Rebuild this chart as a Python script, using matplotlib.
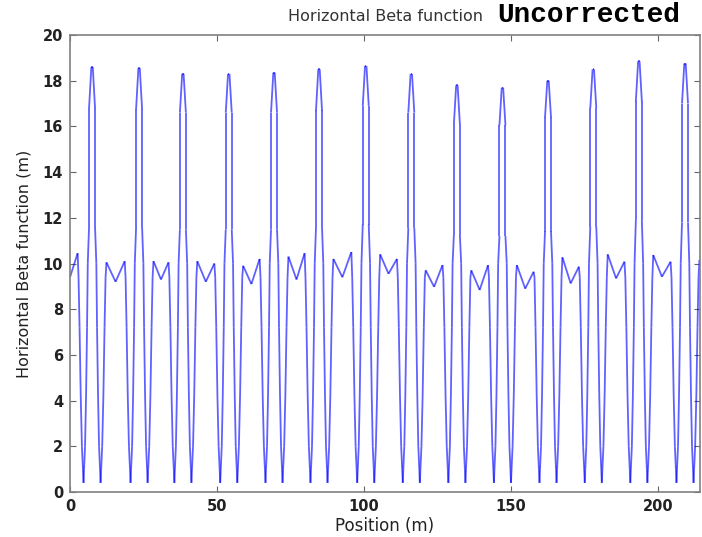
import matplotlib
matplotlib.use("Agg")
import matplotlib.pyplot as plt
from matplotlib.collections import LineCollection

# Focusing sections: peak position (m) and beta values (m) at the top,
# the shoulder and the knee of each high-beta bump
peak_s = [7.5, 23.5, 38.4, 54.0, 69.4, 84.7, 100.6, 116.1, 131.6, 147.1, 162.6, 178.0, 193.5, 209.2]
peak_beta = [18.6, 18.55, 18.3, 18.3, 18.35, 18.5, 18.65, 18.3, 17.8, 17.7, 18.0, 18.5, 18.85, 18.75]
shoulder_beta = [16.8, 16.75, 16.6, 16.6, 16.6, 16.7, 16.9, 16.6, 16.1, 16.05, 16.4, 16.8, 17.1, 17.0]
knee_beta = [11.6, 11.6, 11.5, 11.5, 11.5, 11.6, 11.7, 11.55, 11.25, 11.2, 11.4, 11.6, 11.9, 11.8]

# Lower leg of each bump: distance (m) from the peak and beta (m)
leg_offset = [2.9, 2.72, 2.38, 2.04, 1.70, 1.46]
leg_beta = [0.4, 1.0, 2.0, 4.2, 7.2, 10.0]
knee_offset = 1.02
top_offset = 0.24

# Arc sections between bumps: rise from the minimum up to the "M" shape
arc_offset = [0.2, 0.55, 0.95, 1.35, 1.7, 2.0]
arc_beta = [1.0, 2.0, 4.2, 7.2, 9.4]
arc_left_top = [10.05, 10.1, 10.1, 9.9, 10.3, 10.2, 10.4, 9.7, 9.7, 9.93, 10.27, 10.4, 10.37, 10.15]
arc_mid = [9.2, 9.3, 9.2, 9.1, 9.3, 9.4, 9.55, 8.98, 8.84, 8.9, 9.13, 9.35, 9.42]
arc_right_top = [10.45, 10.1, 10.05, 10.0, 10.2, 10.45, 10.5, 10.2, 9.93, 9.93, 9.64, 9.86, 10.08, 10.08]

start_s, start_beta = 0.0, 9.4
end_s, end_beta = 215.5, 9.9

# Assemble the lattice function along the ring
s, beta = [start_s], [start_beta]
n = len(peak_s)
for i in range(n):
    p = peak_s[i]
    dip_l = p - leg_offset[0]
    # arc leg coming down into the minimum in front of the bump
    down_b = arc_beta + [arc_right_top[i]]
    for off, b in zip(reversed(arc_offset), reversed(down_b)):
        s.append(dip_l - off)
        beta.append(b)
    # the bump itself
    for off, b in zip(leg_offset, leg_beta):
        s.append(p - off)
        beta.append(b)
    s += [p - knee_offset, p - knee_offset, p - top_offset, p + top_offset,
          p + knee_offset, p + knee_offset]
    beta += [knee_beta[i], shoulder_beta[i], peak_beta[i], peak_beta[i],
             shoulder_beta[i], knee_beta[i]]
    for off, b in zip(reversed(leg_offset), reversed(leg_beta)):
        s.append(p + off)
        beta.append(b)
    # arc leg rising out of the minimum behind the bump
    dip_r = p + leg_offset[0]
    up_b = arc_beta + [arc_left_top[i]]
    for off, b in zip(arc_offset, up_b):
        s.append(dip_r + off)
        beta.append(b)
    if i < n - 1:
        s.append(0.5 * (p + peak_s[i + 1]))
        beta.append(arc_mid[i])
s.append(end_s)
beta.append(end_beta)

fig = plt.figure(figsize=(7.02, 5.37), dpi=100)
ax = fig.add_axes([70 / 702, 45 / 537, 630 / 702, 457 / 537])

pts = list(zip(s, beta))
segs = [[pts[k], pts[k + 1]] for k in range(len(pts) - 1)]
ax.add_collection(LineCollection(segs, colors=[(0.0, 0.0, 1.0, 0.62)], linewidths=1.3))

ax.set_xlim(0, 214.3)
ax.set_ylim(0, 20)
ax.set_xticks([0, 50, 100, 150, 200])
ax.set_yticks(range(0, 21, 2))
ax.tick_params(direction="in", length=4, width=0.8, color="#666666",
               top=True, right=True, pad=5)
for lab in ax.get_xticklabels() + ax.get_yticklabels():
    lab.set_family("DejaVu Sans")
    lab.set_fontsize(10.5)
    lab.set_fontweight("bold")
    lab.set_color("#222222")
for sp in ax.spines.values():
    sp.set_color("#808080")
    sp.set_linewidth(1.2)

ax.set_xlabel("Position (m)", family="DejaVu Sans", fontsize=12, labelpad=2,
              color="#222222")
ax.set_ylabel("Horizontal Beta function (m)", family="DejaVu Sans", fontsize=11.5,
              labelpad=8, color="#222222")
ax.set_title("Horizontal Beta function", family="DejaVu Sans", fontsize=11.5,
             color="#333333", pad=10)

fig.text(497 / 702, 1 - 22 / 537, "Uncorrected", family="Liberation Mono",
         fontweight="bold", fontsize=20, va="baseline", ha="left", color="black")

fig.savefig("out.png", dpi=100)
